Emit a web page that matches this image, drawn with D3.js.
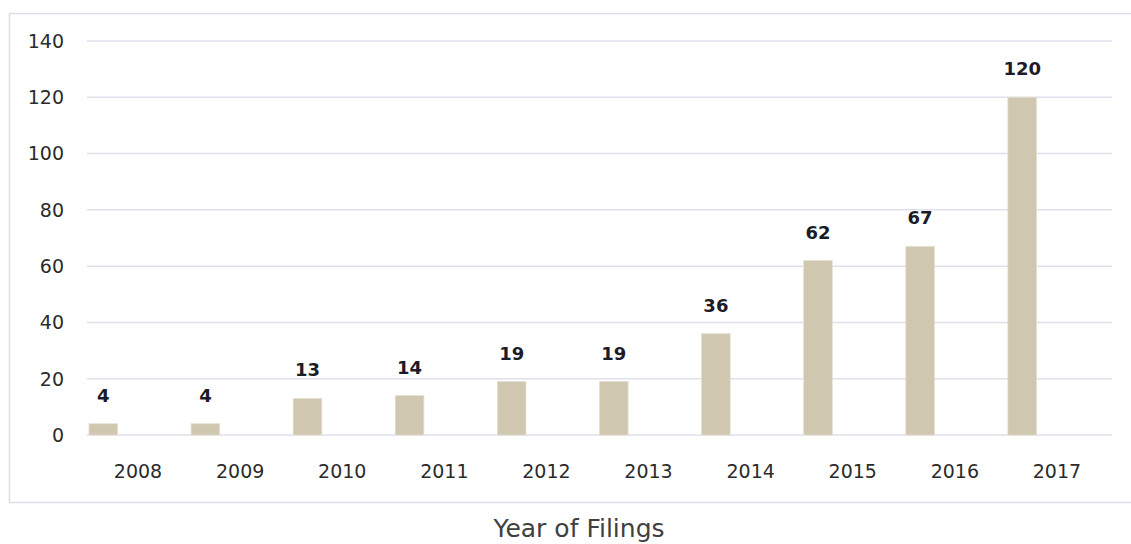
<!DOCTYPE html>
<html>
<head>
<meta charset="utf-8">
<script src="https://cdn.jsdelivr.net/npm/d3@7"></script>
<style>
  html, body { margin: 0; padding: 0; background: #fff; }
  svg { display: block; }
</style>
</head>
<body>
<div id="chart"></div>
<script>
// Filings per year
const years = ['2008', '2009', '2010', '2011', '2012', '2013', '2014', '2015', '2016', '2017'];
const filings = [4, 4, 13, 14, 19, 19, 36, 62, 67, 120];
const yTicks = [0, 20, 40, 60, 80, 100, 120, 140];
const xTitle = 'Year of Filings';

const width = 1131;
const height = 544;

const svg = d3.select('#chart')
  .append('svg')
  .attr('width', width)
  .attr('height', height);

// Outer frame of the chart area (runs off the right edge)
svg.append('rect')
  .attr('x', 9.5)
  .attr('y', 13.5)
  .attr('width', width + 10)
  .attr('height', 489)
  .attr('fill', 'none')
  .attr('stroke', '#dddce8')
  .attr('stroke-width', 1.5);

const x = d3.scaleBand()
  .domain(years)
  .range([87, 1108])
  .padding(0);

const y = d3.scaleLinear()
  .domain([0, 140])
  .range([435, 41]);

// Gridlines
svg.append('g')
  .selectAll('line')
  .data(yTicks)
  .join('line')
  .attr('x1', 87)
  .attr('x2', 1112)
  .attr('y1', d => y(d))
  .attr('y2', d => y(d))
  .attr('stroke', '#e0dfec')
  .attr('stroke-width', 1.5);

// Y tick labels
svg.append('g')
  .selectAll('text')
  .data(yTicks)
  .join('text')
  .attr('x', 64)
  .attr('y', d => y(d))
  .attr('dy', '0.36em')
  .attr('text-anchor', 'end')
  .attr('font-family', 'DejaVu Sans, Verdana, sans-serif')
  .attr('font-size', '19px')
  .attr('fill', '#2b2b2b')
  .text(d => d);

const barOffset = 2;
const barWidth = x.bandwidth() * 0.28;

// Bars
svg.append('g')
  .selectAll('rect')
  .data(years)
  .join('rect')
  .attr('x', d => x(d) + barOffset)
  .attr('y', (d, i) => y(filings[i]))
  .attr('width', barWidth)
  .attr('height', (d, i) => y(0) - y(filings[i]))
  .attr('fill', '#cfc7af')
  .attr('stroke', '#e4dfcf')
  .attr('stroke-width', 0.8);

// Value labels
svg.append('g')
  .selectAll('text')
  .data(years)
  .join('text')
  .attr('x', d => x(d) + barOffset + barWidth / 2)
  .attr('y', (d, i) => y(filings[i]) - 22)
  .attr('text-anchor', 'middle')
  .attr('font-family', 'DejaVu Sans, Verdana, sans-serif')
  .attr('font-size', '18px')
  .attr('font-weight', 'bold')
  .attr('fill', '#1c1c28')
  .text((d, i) => filings[i]);

// Year labels
svg.append('g')
  .selectAll('text')
  .data(years)
  .join('text')
  .attr('x', d => x(d) + x.bandwidth() / 2)
  .attr('y', 478)
  .attr('text-anchor', 'middle')
  .attr('font-family', 'DejaVu Sans, Verdana, sans-serif')
  .attr('font-size', '19px')
  .attr('fill', '#2b2b2b')
  .text(d => d);

// Axis title
svg.append('text')
  .attr('x', 579)
  .attr('y', 537)
  .attr('text-anchor', 'middle')
  .attr('font-family', 'DejaVu Sans, Verdana, sans-serif')
  .attr('font-size', '25px')
  .attr('fill', '#404040')
  .text(xTitle);
</script>
</body>
</html>
